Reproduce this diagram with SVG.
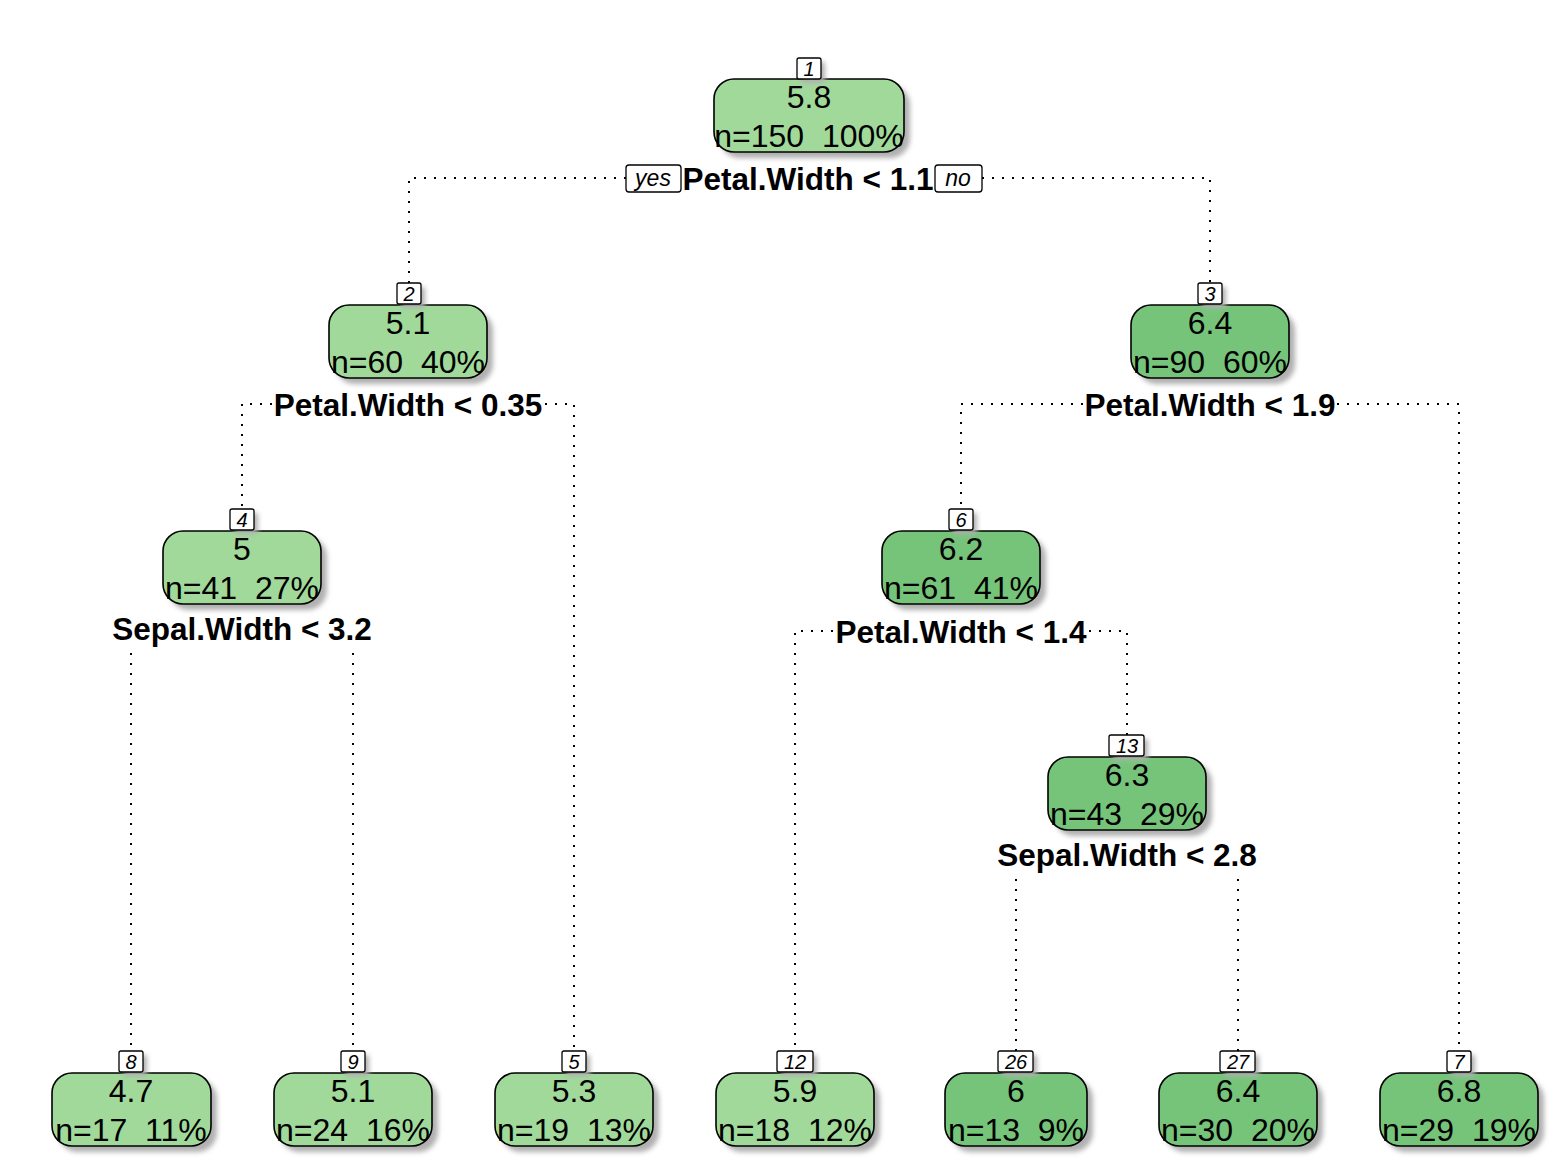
<svg xmlns="http://www.w3.org/2000/svg" width="1568" height="1158" viewBox="0 0 1568 1158">
<defs>
<filter id="sh" x="-20%" y="-30%" width="140%" height="160%"><feGaussianBlur stdDeviation="2.5"/></filter>
</defs>
<style>
.conn{stroke:#000;stroke-width:2;stroke-dasharray:2 8;fill:none}
.lt{fill:#a1d99b}
.dk{fill:#76c47a}
.box{stroke:#000;stroke-width:1.6}
.shd{fill:#b0b0b0;filter:url(#sh)}
.val{font-family:"Liberation Sans",Arial,sans-serif;font-size:32px;text-anchor:middle;fill:#000}
.num{font-family:"Liberation Sans",Arial,sans-serif;font-size:20px;font-style:italic;text-anchor:middle;fill:#000}
.nb{fill:#fff;stroke:#000;stroke-width:1.3}
.split{font-family:"Liberation Sans",Arial,sans-serif;font-size:31.5px;font-weight:bold;text-anchor:middle;fill:#000}
.yn{font-family:"Liberation Sans",Arial,sans-serif;font-size:23px;font-style:italic;text-anchor:middle;fill:#000}
</style>
<rect width="1568" height="1158" fill="#fff"/>
<g id="connectors">
<path class="conn" d="M626 178H409V283M982 178H1210V283"/>
<path class="conn" d="M272 404H242V509M545 404H574V1051"/>
<path class="conn" d="M1083 404H961V509M1337 404H1459V1051"/>
<path class="conn" d="M131 653V1051M353 653V1051"/>
<path class="conn" d="M833 631H795V1051M1089 631H1127V735"/>
<path class="conn" d="M1016 879V1051M1238 879V1051"/>
</g>
<g id="node1">
<rect class="shd" x="720" y="85" width="190" height="73" rx="20"/>
<rect class="lt box" x="714" y="79" width="190" height="73" rx="20"/>
<text class="val" x="809" y="108">5.8</text>
<text class="val" x="809" y="147" xml:space="preserve">n=150  100%</text>
<rect class="shd" x="801" y="62" width="24" height="21" rx="2"/>
<rect class="nb" x="797" y="58" width="24" height="21" rx="2"/>
<text class="num" x="809" y="76">1</text>
<rect fill="#fff" x="682" y="163" width="252" height="30"/>
<text class="split" x="808" y="190">Petal.Width &lt; 1.1</text>
<rect class="nb" x="626" y="165" width="55" height="27" rx="3"/>
<text class="yn" x="653" y="186">yes</text>
<rect class="nb" x="935" y="165" width="47" height="27" rx="3"/>
<text class="yn" x="958" y="186">no</text>
</g>
<g id="node2">
<rect class="shd" x="335" y="311" width="158" height="73" rx="20"/>
<rect class="lt box" x="329" y="305" width="158" height="73" rx="20"/>
<text class="val" x="408" y="334">5.1</text>
<text class="val" x="408" y="373" xml:space="preserve">n=60  40%</text>
<rect class="shd" x="401" y="287" width="24" height="21" rx="2"/>
<rect class="nb" x="397" y="283" width="24" height="21" rx="2"/>
<text class="num" x="409" y="301">2</text>
<rect fill="#fff" x="272" y="389" width="273" height="30"/>
<text class="split" x="408" y="416">Petal.Width &lt; 0.35</text>
</g>
<g id="node3">
<rect class="shd" x="1137" y="311" width="158" height="73" rx="20"/>
<rect class="dk box" x="1131" y="305" width="158" height="73" rx="20"/>
<text class="val" x="1210" y="334">6.4</text>
<text class="val" x="1210" y="373" xml:space="preserve">n=90  60%</text>
<rect class="shd" x="1202" y="287" width="24" height="21" rx="2"/>
<rect class="nb" x="1198" y="283" width="24" height="21" rx="2"/>
<text class="num" x="1210" y="301">3</text>
<rect fill="#fff" x="1083" y="389" width="254" height="30"/>
<text class="split" x="1210" y="416">Petal.Width &lt; 1.9</text>
</g>
<g id="node4">
<rect class="shd" x="169" y="537" width="158" height="73" rx="20"/>
<rect class="lt box" x="163" y="531" width="158" height="73" rx="20"/>
<text class="val" x="242" y="560">5</text>
<text class="val" x="242" y="599" xml:space="preserve">n=41  27%</text>
<rect class="shd" x="234" y="513" width="24" height="21" rx="2"/>
<rect class="nb" x="230" y="509" width="24" height="21" rx="2"/>
<text class="num" x="242" y="527">4</text>
<text class="split" x="242" y="640">Sepal.Width &lt; 3.2</text>
</g>
<g id="node6">
<rect class="shd" x="888" y="537" width="158" height="73" rx="20"/>
<rect class="dk box" x="882" y="531" width="158" height="73" rx="20"/>
<text class="val" x="961" y="560">6.2</text>
<text class="val" x="961" y="599" xml:space="preserve">n=61  41%</text>
<rect class="shd" x="953" y="513" width="24" height="21" rx="2"/>
<rect class="nb" x="949" y="509" width="24" height="21" rx="2"/>
<text class="num" x="961" y="527">6</text>
<rect fill="#fff" x="833" y="616" width="256" height="30"/>
<text class="split" x="961" y="643">Petal.Width &lt; 1.4</text>
</g>
<g id="node13">
<rect class="shd" x="1054" y="763" width="158" height="73" rx="20"/>
<rect class="dk box" x="1048" y="757" width="158" height="73" rx="20"/>
<text class="val" x="1127" y="786">6.3</text>
<text class="val" x="1127" y="825" xml:space="preserve">n=43  29%</text>
<rect class="shd" x="1113" y="739" width="35" height="21" rx="2"/>
<rect class="nb" x="1109" y="735" width="35" height="21" rx="2"/>
<text class="num" x="1127" y="753">13</text>
<text class="split" x="1127" y="866">Sepal.Width &lt; 2.8</text>
</g>
<g id="node8">
<rect class="shd" x="58" y="1079" width="159" height="73" rx="20"/>
<rect class="lt box" x="52" y="1073" width="159" height="73" rx="20"/>
<text class="val" x="131" y="1102">4.7</text>
<text class="val" x="131" y="1141" xml:space="preserve">n=17  11%</text>
<rect class="shd" x="123" y="1055" width="24" height="21" rx="2"/>
<rect class="nb" x="119" y="1051" width="24" height="21" rx="2"/>
<text class="num" x="131" y="1069">8</text>
</g>
<g id="node9">
<rect class="shd" x="280" y="1079" width="158" height="73" rx="20"/>
<rect class="lt box" x="274" y="1073" width="158" height="73" rx="20"/>
<text class="val" x="353" y="1102">5.1</text>
<text class="val" x="353" y="1141" xml:space="preserve">n=24  16%</text>
<rect class="shd" x="345" y="1055" width="24" height="21" rx="2"/>
<rect class="nb" x="341" y="1051" width="24" height="21" rx="2"/>
<text class="num" x="353" y="1069">9</text>
</g>
<g id="node5">
<rect class="shd" x="501" y="1079" width="158" height="73" rx="20"/>
<rect class="lt box" x="495" y="1073" width="158" height="73" rx="20"/>
<text class="val" x="574" y="1102">5.3</text>
<text class="val" x="574" y="1141" xml:space="preserve">n=19  13%</text>
<rect class="shd" x="566" y="1055" width="24" height="21" rx="2"/>
<rect class="nb" x="562" y="1051" width="24" height="21" rx="2"/>
<text class="num" x="574" y="1069">5</text>
</g>
<g id="node12">
<rect class="shd" x="722" y="1079" width="158" height="73" rx="20"/>
<rect class="lt box" x="716" y="1073" width="158" height="73" rx="20"/>
<text class="val" x="795" y="1102">5.9</text>
<text class="val" x="795" y="1141" xml:space="preserve">n=18  12%</text>
<rect class="shd" x="781" y="1055" width="36" height="21" rx="2"/>
<rect class="nb" x="777" y="1051" width="36" height="21" rx="2"/>
<text class="num" x="795" y="1069">12</text>
</g>
<g id="node26">
<rect class="shd" x="951" y="1079" width="142" height="73" rx="20"/>
<rect class="dk box" x="945" y="1073" width="142" height="73" rx="20"/>
<text class="val" x="1016" y="1102">6</text>
<text class="val" x="1016" y="1141" xml:space="preserve">n=13  9%</text>
<rect class="shd" x="1002" y="1055" width="35" height="21" rx="2"/>
<rect class="nb" x="998" y="1051" width="35" height="21" rx="2"/>
<text class="num" x="1016" y="1069">26</text>
</g>
<g id="node27">
<rect class="shd" x="1165" y="1079" width="158" height="73" rx="20"/>
<rect class="dk box" x="1159" y="1073" width="158" height="73" rx="20"/>
<text class="val" x="1238" y="1102">6.4</text>
<text class="val" x="1238" y="1141" xml:space="preserve">n=30  20%</text>
<rect class="shd" x="1224" y="1055" width="35" height="21" rx="2"/>
<rect class="nb" x="1220" y="1051" width="35" height="21" rx="2"/>
<text class="num" x="1238" y="1069">27</text>
</g>
<g id="node7">
<rect class="shd" x="1386" y="1079" width="158" height="73" rx="20"/>
<rect class="dk box" x="1380" y="1073" width="158" height="73" rx="20"/>
<text class="val" x="1459" y="1102">6.8</text>
<text class="val" x="1459" y="1141" xml:space="preserve">n=29  19%</text>
<rect class="shd" x="1451" y="1055" width="24" height="21" rx="2"/>
<rect class="nb" x="1447" y="1051" width="24" height="21" rx="2"/>
<text class="num" x="1459" y="1069">7</text>
</g>
</svg>
